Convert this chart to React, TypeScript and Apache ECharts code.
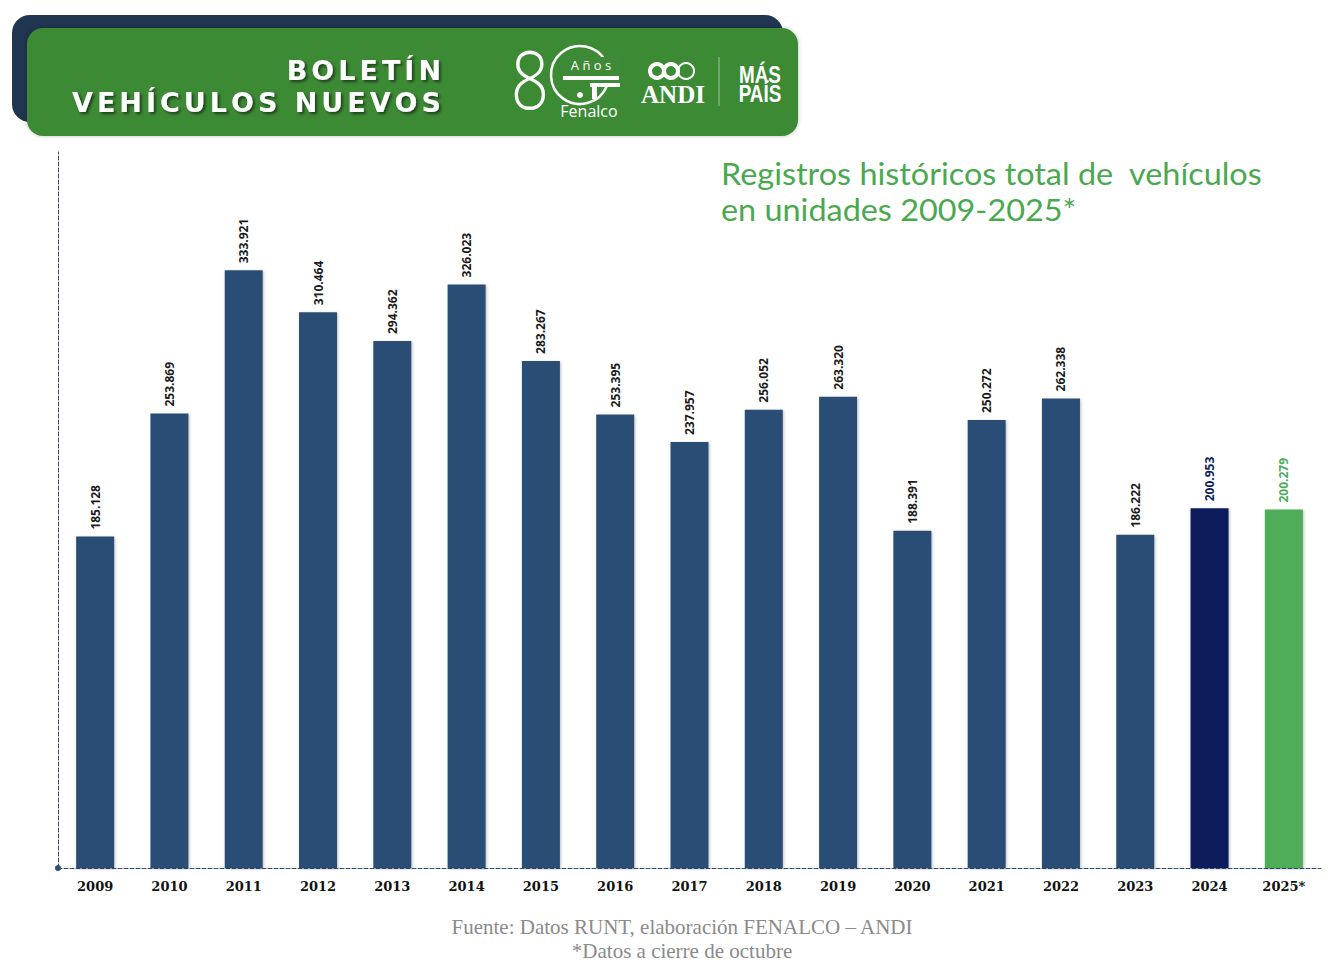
import React, { useEffect, useRef } from "react";
import * as echarts from "echarts";

// Registered vehicles per year (units)
const years = ["2009", "2010", "2011", "2012", "2013", "2014", "2015", "2016", "2017", "2018", "2019", "2020", "2021", "2022", "2023", "2024", "2025*"];
const registrations = [185128, 253869, 333921, 310464, 294362, 326023, 283267, 253395, 237957, 256052, 263320, 188391, 250272, 262338, 186222, 200953, 200279];

const titleLines = ["Registros históricos total de  vehículos", "en unidades 2009-2025*"];
const sourceLines = ["Fuente: Datos RUNT, elaboración FENALCO – ANDI", "*Datos a cierre de octubre"];
const bannerLines = ["BOLETÍN", "VEHÍCULOS NUEVOS"];

const BAR = "#2c4e76";
const BAR_2024 = "#0c1f5b";
const BAR_2025 = "#4dad58";
const GREEN_TXT = "#4aa94f";
const BANNER_GREEN = "#3e8a36";

const fmt = (v: number) => v.toLocaleString("de-DE");

const BANNER_FONT = "900 27px 'DejaVu Sans', sans-serif";

// Lay out a line letter by letter so it ends at rightX with uniform tracking
function trackedLine(text: string, rightX: number, tracking: number, y: number) {
  const ctx = document.createElement("canvas").getContext("2d")!;
  ctx.font = BANNER_FONT;
  const widths = text.split("").map((ch) => ctx.measureText(ch).width);
  const total = widths.reduce((a, b) => a + b, 0) + tracking * (text.length - 1);
  let x = rightX - total;
  return text.split("").map((ch, i) => {
    const el = {
      type: "text",
      x,
      y,
      style: {
        text: ch,
        fill: "#ffffff",
        font: BANNER_FONT,
        align: "left",
        verticalAlign: "middle",
        textShadowColor: "rgba(0,0,0,0.55)",
        textShadowBlur: 3,
        textShadowOffsetX: 2,
        textShadowOffsetY: 2,
      },
    };
    x += widths[i] + tracking;
    return el;
  });
}

export default function App() {
  const ref = useRef<HTMLDivElement>(null);

  useEffect(() => {
    document.body.style.margin = "0";
    const chart = echarts.init(ref.current!, null, { renderer: "svg" });

    const data = registrations.map((v, i) => {
      const color = i === 15 ? BAR_2024 : i === 16 ? BAR_2025 : BAR;
      const labelColor = i === 15 ? BAR_2024 : i === 16 ? BAR_2025 : "#1b1b1b";
      return { value: v, itemStyle: { color }, label: { color: labelColor } };
    });

    const header: any[] = [
      { type: "rect", shape: { x: 12, y: 15, width: 771, height: 107, r: 18 }, style: { fill: "#1f3550" } },
      {
        type: "rect",
        shape: { x: 27, y: 28, width: 771, height: 108, r: 16 },
        style: { fill: BANNER_GREEN, shadowColor: "rgba(0,0,0,0.25)", shadowBlur: 4 },
      },
      ...trackedLine(bannerLines[0], 441, 4, 70),
      ...trackedLine(bannerLines[1], 441, 4, 102),
      // Fenalco 80 años mark
      {
        type: "text",
        x: 530,
        y: 77,
        scaleX: 0.82,
        style: { text: "8", fill: "#ffffff", font: "200 82px 'Open Sans', sans-serif", align: "center", verticalAlign: "middle" },
      },
      {
        type: "arc",
        shape: { cx: 580, cy: 75, r: 29, startAngle: Math.PI * 0.12, endAngle: Math.PI * 1.85, clockwise: true },
        style: { stroke: "#ffffff", lineWidth: 2.5, fill: null },
      },
      { type: "rect", shape: { x: 561, y: 57, width: 58, height: 17 }, style: { fill: BANNER_GREEN } },
      {
        type: "text",
        x: 591,
        y: 65,
        style: { text: "A ñ o s", fill: "#ffffff", font: "13px 'Open Sans', sans-serif", align: "center", verticalAlign: "middle" },
      },
      { type: "rect", shape: { x: 563, y: 76, width: 56, height: 4 }, style: { fill: "#ffffff" } },
      { type: "rect", shape: { x: 590, y: 83, width: 30, height: 4 }, style: { fill: "#ffffff" } },
      { type: "rect", shape: { x: 592, y: 83, width: 5, height: 16 }, style: { fill: "#ffffff" } },
      { type: "circle", shape: { cx: 580, cy: 95, r: 3 }, style: { fill: "#ffffff" } },
      {
        type: "text",
        x: 589,
        y: 111,
        style: { text: "Fenalco", fill: "#ffffff", font: "16px 'Open Sans', sans-serif", align: "center", verticalAlign: "middle" },
      },
      // ANDI mark
      { type: "circle", shape: { cx: 657, cy: 71, r: 7 }, style: { stroke: "#ffffff", lineWidth: 4, fill: null } },
      { type: "circle", shape: { cx: 671, cy: 71, r: 7 }, style: { stroke: "#ffffff", lineWidth: 4, fill: null } },
      { type: "circle", shape: { cx: 686, cy: 71, r: 8 }, style: { stroke: "#ffffff", lineWidth: 2, fill: null } },
      {
        type: "text",
        x: 673,
        y: 94,
        style: { text: "ANDI", fill: "#ffffff", font: "bold 25px 'Liberation Serif', serif", align: "center", verticalAlign: "middle" },
      },
      { type: "line", shape: { x1: 719, y1: 57, x2: 719, y2: 106 }, style: { stroke: "rgba(255,255,255,0.5)", lineWidth: 1 } },
      {
        type: "text",
        x: 760,
        y: 84,
        scaleX: 0.82,
        style: {
          text: "MÁS\nPAÍS",
          fill: "#ffffff",
          font: "bold 23px 'Liberation Sans', sans-serif",
          lineHeight: 19,
          align: "center",
          verticalAlign: "middle",
        },
      },
      // Chart title
      {
        type: "text",
        x: 721,
        y: 191,
        scaleX: 1.08,
        style: {
          text: titleLines.join("\n"),
          fill: GREEN_TXT,
          font: "30px Lato, 'Open Sans', sans-serif",
          lineHeight: 36,
          align: "left",
          verticalAlign: "middle",
        },
      },
      // Source note
      {
        type: "text",
        x: 682,
        y: 939,
        style: {
          text: sourceLines.join("\n"),
          fill: "#8a8a8a",
          font: "21px 'Liberation Serif', 'DejaVu Serif', serif",
          lineHeight: 24,
          align: "center",
          verticalAlign: "middle",
        },
      },
    ];

    chart.setOption({
      animation: false,
      backgroundColor: "#ffffff",
      grid: { left: 58, right: 14, top: 152, bottom: 96, containLabel: false },
      xAxis: {
        type: "category",
        data: years,
        axisLine: {
          show: true,
          symbol: ["circle", "none"],
          symbolSize: [6, 6],
          lineStyle: { color: "#2c4e76", type: "dashed", width: 1 },
        },
        axisTick: { show: false },
        axisLabel: {
          color: "#111111",
          fontWeight: "bold",
          fontSize: 13,
          fontFamily: "'DejaVu Serif', 'Liberation Serif', serif",
          margin: 12,
        },
      },
      yAxis: {
        type: "value",
        min: 0,
        max: 400000,
        axisLine: { show: true, lineStyle: { color: "#3c4f6a", type: "dashed", width: 1 } },
        axisTick: { show: false },
        axisLabel: { show: false },
        splitLine: { show: false },
      },
      series: [
        {
          type: "bar",
          data,
          barWidth: 38,
          itemStyle: { shadowColor: "rgba(0,0,0,0.25)", shadowBlur: 3, shadowOffsetX: 1, shadowOffsetY: 1 },
          label: {
            show: true,
            position: "top",
            rotate: 90,
            align: "left",
            verticalAlign: "middle",
            distance: 7,
            fontSize: 12,
            fontWeight: "bold",
            fontFamily: "'Open Sans', 'Noto Sans', sans-serif",
            formatter: (p: any) => fmt(p.value),
          },
        },
      ],
      graphic: header,
    });

    return () => chart.dispose();
  }, []);

  return <div ref={ref} style={{ width: 1335, height: 964 }} />;
}
